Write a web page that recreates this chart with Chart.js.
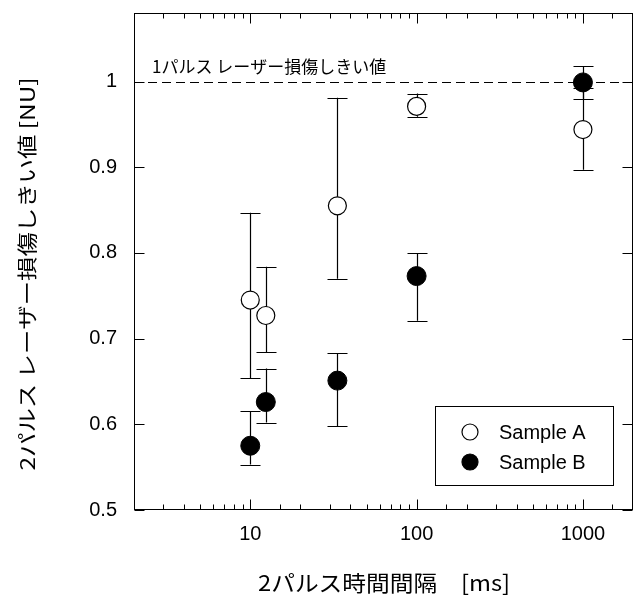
<!DOCTYPE html>
<html><head><meta charset="utf-8">
<script src="https://cdn.jsdelivr.net/npm/chart.js@4/dist/chart.umd.min.js"></script>
<style>html,body{margin:0;padding:0;background:#fff}canvas{display:block}</style>
</head><body>
<canvas id="c" width="637" height="596"></canvas>
<script>
// ---- data ----
const intervalsMs = [10, 12.4, 33.4, 100, 1000];
const sampleA = [0.745, 0.727, 0.855, 0.971, 0.944];
const sampleAHigh = [0.847, 0.784, 0.981, 0.986, 0.992];
const sampleALow = [0.654, 0.684, 0.770, 0.959, 0.897];
const sampleB = [0.575, 0.626, 0.651, 0.773, 0.999];
const sampleBHigh = [0.615, 0.665, 0.683, 0.800, 1.018];
const sampleBLow = [0.553, 0.602, 0.598, 0.721, 0.980];
const xTickLabels = [10, 100, 1000];
const yTickValues = [0.5, 0.6, 0.7, 0.8, 0.9, 1.0];
const seriesNames = ['Sample A', 'Sample B'];
const thresholdValue = 1;
const thresholdLabel = '1パルス レーザー損傷しきい値';
const xTitle = '2パルス時間間隔　[ms]';
const yTitle = '2パルス レーザー損傷しきい値 [NU]';

const JP = '"Noto Sans CJK JP", "Liberation Sans", sans-serif';
const NUM = '"Liberation Sans", Arial, sans-serif';

const pts = (ys) => intervalsMs.map((x, i) => ({x, y: ys[i]}));
const errs = [[sampleALow, sampleAHigh], [sampleBLow, sampleBHigh]];

function stretchedText(ctx, text, font, cx, cy, targetW, rot) {
  ctx.save();
  ctx.font = font;
  const w = ctx.measureText(text).width;
  ctx.translate(cx, cy);
  ctx.rotate(rot);
  ctx.scale(targetW / w, 1);
  ctx.textAlign = 'center'; ctx.textBaseline = 'middle';
  ctx.fillStyle = '#000';
  ctx.fillText(text, 0, 0);
  ctx.restore();
}

const plotPlugin = {
  id: 'plotDecor',
  beforeDatasetsDraw(chart) {
    const {ctx, chartArea: a, scales: {x, y}} = chart;
    ctx.save();
    const ty = Math.round(y.getPixelForValue(thresholdValue)) + 0.5;
    ctx.strokeStyle = '#000'; ctx.lineWidth = 1;
    ctx.setLineDash([9, 5]);
    ctx.beginPath(); ctx.moveTo(a.left, ty); ctx.lineTo(a.right, ty); ctx.stroke();
    ctx.setLineDash([]);
    ctx.fillStyle = '#000'; ctx.font = '17px ' + JP;
    ctx.textAlign = 'left'; ctx.textBaseline = 'middle';
    ctx.fillText(thresholdLabel, a.left + 18, ty - 16);
    ctx.lineWidth = 1.2;
    chart.data.datasets.forEach((ds, di) => {
      const [lo, hi] = errs[di];
      ds.data.forEach((p, i) => {
        const px = Math.round(x.getPixelForValue(p.x)) + 0.5;
        const yl = y.getPixelForValue(lo[i]);
        const yh = y.getPixelForValue(hi[i]);
        ctx.beginPath();
        ctx.moveTo(px, yl); ctx.lineTo(px, yh);
        ctx.moveTo(px - 10, Math.round(yl) + 0.5); ctx.lineTo(px + 10, Math.round(yl) + 0.5);
        ctx.moveTo(px - 10, Math.round(yh) + 0.5); ctx.lineTo(px + 10, Math.round(yh) + 0.5);
        ctx.stroke();
      });
    });
    ctx.restore();
  },
  afterDatasetsDraw(chart) {
    const {ctx, chartArea: a, scales: {x, y}} = chart;
    ctx.save();
    ctx.strokeStyle = '#000'; ctx.lineWidth = 1;
    const L = Math.round(a.left) + 0.5, R = Math.round(a.right) - 0.5;
    const T = Math.round(a.top) + 0.5, B = Math.round(a.bottom) - 0.5;
    ctx.strokeRect(L, T, R - L, B - T);
    ctx.beginPath();
    x.ticks.forEach(t => {
      const major = xTickLabels.some(v => Math.abs(v - t.value) < 1e-6);
      const len = major ? 10 : 5;
      if (t.value <= x.min || t.value >= x.max) return;
      const px = Math.round(x.getPixelForValue(t.value)) + 0.5;
      ctx.moveTo(px, B); ctx.lineTo(px, B - len);
      ctx.moveTo(px, T); ctx.lineTo(px, T + len);
    });
    y.ticks.forEach(t => {
      const py = Math.round(y.getPixelForValue(t.value)) + 0.5;
      ctx.moveTo(L, py); ctx.lineTo(L + 10, py);
      ctx.moveTo(R, py); ctx.lineTo(R - 10, py);
    });
    ctx.stroke();
    // legend
    const bx = 435.5, by = 406.5, bw = 178, bh = 79;
    ctx.fillStyle = '#fff'; ctx.fillRect(bx, by, bw, bh);
    ctx.strokeRect(bx, by, bw, bh);
    chart.data.datasets.forEach((ds, i) => {
      const cy = 432 + i * 30;
      ctx.beginPath(); ctx.arc(470, cy, 8, 0, Math.PI * 2);
      ctx.fillStyle = ds.backgroundColor; ctx.fill();
      ctx.lineWidth = 1.2; ctx.strokeStyle = '#000'; ctx.stroke();
      ctx.fillStyle = '#000'; ctx.font = '20px ' + NUM;
      ctx.textAlign = 'left'; ctx.textBaseline = 'middle';
      ctx.fillText(ds.label, 499, cy + 1);
    });
    ctx.restore();
  },
  afterDraw(chart) {
    const {ctx} = chart;
    stretchedText(ctx, yTitle, '20px ' + JP, 27, 274, 393, -Math.PI / 2);
    stretchedText(ctx, xTitle, '22px ' + JP, 384, 583, 252, 0);
  }
};

new Chart(document.getElementById('c'), {
  type: 'scatter',
  data: {
    datasets: [
      {label: seriesNames[0], data: pts(sampleA), backgroundColor: '#fff', borderColor: '#000',
       borderWidth: 1.2, pointRadius: 9, pointHoverRadius: 9, showLine: false},
      {label: seriesNames[1], data: pts(sampleB), backgroundColor: '#000', borderColor: '#000',
       borderWidth: 1, pointRadius: 9.5, pointHoverRadius: 9.5, showLine: false}
    ]
  },
  options: {
    responsive: false, devicePixelRatio: 1, animation: false,
    layout: {autoPadding: false, padding: {left: 0, right: 4, top: 13, bottom: 0}},
    plugins: {legend: {display: false}, tooltip: {enabled: false}},
    scales: {
      x: {
        type: 'logarithmic', min: 2, max: 2000,
        grid: {display: false, drawTicks: false}, border: {display: false},
        afterFit: s => { s.height = 86; s.paddingLeft = 0; s.paddingRight = 0; },
        ticks: {
          autoSkip: false, maxRotation: 0, padding: 12, color: '#000',
          font: {family: NUM, size: 20},
          callback: v => xTickLabels.some(t => Math.abs(t - v) < 1e-6) ? String(v) : ''
        },
        title: {display: false, text: xTitle}
      },
      y: {
        min: 0.5, max: 1.08,
        grid: {display: false, drawTicks: false}, border: {display: false},
        afterBuildTicks: s => { s.ticks = yTickValues.map(v => ({value: v})); },
        afterFit: s => { s.width = 134; s.paddingTop = 0; s.paddingBottom = 0; },
        ticks: {
          padding: 17, color: '#000', font: {family: NUM, size: 20},
          callback: v => String(Number(v.toFixed(1)))
        },
        title: {display: false, text: yTitle}
      }
    }
  },
  plugins: [plotPlugin]
});
</script>
</body></html>
